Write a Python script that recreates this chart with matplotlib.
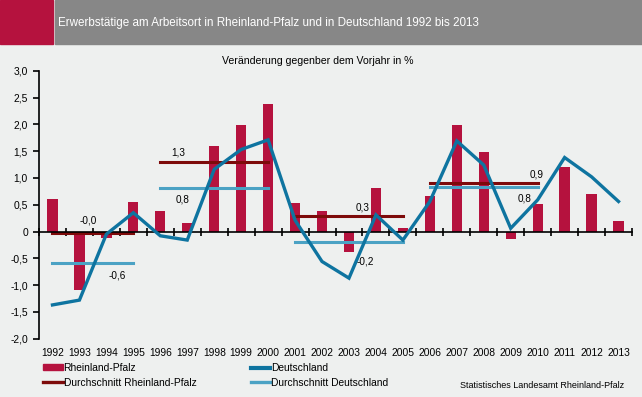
import numpy as np
import matplotlib
matplotlib.use("Agg")
import matplotlib.pyplot as plt
from matplotlib.patches import Rectangle
from matplotlib.lines import Line2D
from matplotlib.ticker import FuncFormatter

plt.rcParams['font.family'] = ['Liberation Sans', 'DejaVu Sans']

# data
years = [str(y) for y in range(1992, 2014)]
rlp = [0.61, -1.10, -0.12, 0.55, 0.38, 0.16, 1.60, 1.99, 2.37, 0.53, 0.38,
       -0.38, 0.81, 0.07, 0.66, 1.99, 1.48, -0.14, 0.51, 1.20, 0.70, 0.20]
de = [-1.37, -1.28, -0.05, 0.35, -0.08, -0.16, 1.16, 1.53, 1.71, 0.21, -0.56,
      -0.87, 0.31, -0.16, 0.56, 1.69, 1.24, 0.06, 0.59, 1.38, 1.02, 0.56]
# averages per period: (first year index, last year index)
periods = [(0, 3), (4, 8), (9, 13), (14, 18)]
rlp_avg = [-0.03, 1.29, 0.29, 0.90]
de_avg = [-0.59, 0.82, -0.20, 0.83]

c_bar = '#b5123e'
c_de = '#0e74a0'
c_rlp_avg = '#7d0a0a'
c_de_avg = '#4ba2c4'
bg = '#eef0ef'

fig = plt.figure(figsize=(6.42, 3.97), dpi=100)
fig.patch.set_facecolor(bg)

# header band
fig.patches.append(Rectangle((0, 1 - 44 / 397), 53 / 642, 44 / 397,
                             transform=fig.transFigure, color=c_bar, zorder=0))
fig.patches.append(Rectangle((55 / 642, 1 - 44 / 397), 1, 44 / 397,
                             transform=fig.transFigure, color='#878787', zorder=0))
fig.text(58 / 642, 1 - 23 / 397, 'Erwerbstätige am Arbeitsort in Rheinland-Pfalz und in Deutschland 1992 bis 2013',
         color='white', fontsize=8.4, va='center', ha='left')
fig.text(222 / 642, 1 - 61 / 397, 'Veränderung gegenber dem Vorjahr in %',
         fontsize=7.6, va='center', ha='left')

ax = fig.add_axes([39 / 642, 1 - 338.7 / 397, 593 / 642, 268 / 397])
ax.set_facecolor(bg)
x = np.arange(len(years))

ax.bar(x, rlp, width=0.38, color=c_bar, zorder=2)
ax.plot(x, de, color=c_de, lw=2.4, zorder=4, solid_joinstyle='miter')

for (a, b), r, d in zip(periods, rlp_avg, de_avg):
    ax.plot([x[a], x[b]], [r, r], color=c_rlp_avg, lw=2.2, zorder=3)
    ax.plot([x[a], x[b]], [d, d], color=c_de_avg, lw=2.2, zorder=3)

def fmt(v):
    return f'{v:.1f}'.replace('.', ',')

# value labels next to the averages
lab_kw = dict(fontsize=7.2, ha='center', va='center', zorder=5)
ax.text(1.32, rlp_avg[0] + 0.24, fmt(rlp_avg[0]), **lab_kw)
ax.text(2.39, de_avg[0] - 0.24, fmt(de_avg[0]), **lab_kw)
ax.text(4.66, rlp_avg[1] + 0.18, fmt(rlp_avg[1]), **lab_kw)
ax.text(4.84, de_avg[1] - 0.23, fmt(de_avg[1]), **lab_kw)
ax.text(11.5, rlp_avg[2] + 0.15, fmt(rlp_avg[2]), **lab_kw)
ax.text(11.6, de_avg[2] - 0.36, fmt(de_avg[2]), **lab_kw)
ax.text(17.97, rlp_avg[3] + 0.17, fmt(rlp_avg[3]), **lab_kw)
ax.text(17.5, de_avg[3] - 0.21, fmt(de_avg[3]), **lab_kw)

ax.set_xlim(-0.5, len(years) - 0.5)
ax.set_ylim(-2.0, 3.0)
ax.set_yticks(np.arange(-2.0, 3.01, 0.5))
ax.yaxis.set_major_formatter(FuncFormatter(lambda v, p: '0' if abs(v) < 1e-9 else fmt(v)))
ax.tick_params(axis='y', labelsize=7.4, length=4, width=1.2, pad=4)

for s in ['top', 'right']:
    ax.spines[s].set_visible(False)
ax.spines['left'].set_linewidth(1.2)
ax.spines['bottom'].set_position(('data', 0))
ax.spines['bottom'].set_linewidth(1.2)
ax.spines['bottom'].set_zorder(3)
ax.set_xticks(np.arange(-0.5, len(years), 1.0))
ax.set_xticklabels([])
ax.tick_params(axis='x', direction='inout', length=6, width=1.2)

sec = ax.secondary_xaxis(0.0)
sec.set_xticks(x)
sec.set_xticklabels(years)
sec.tick_params(length=0, labelsize=7.4, pad=7)
sec.spines['bottom'].set_visible(False)

handles = [
    Rectangle((0, 0), 1, 1, color=c_bar),
    Line2D([], [], color=c_de, lw=3),
    Line2D([], [], color=c_rlp_avg, lw=2.4),
    Line2D([], [], color=c_de_avg, lw=2.4),
]
labels = ['Rheinland-Pfalz', 'Deutschland', 'Durchschnitt Rheinland-Pfalz', 'Durchschnitt Deutschland']
order = [0, 2, 1, 3]
fig.legend([handles[i] for i in order], [labels[i] for i in order], ncol=2,
           loc='upper left', bbox_to_anchor=(43 / 642, 1 - 363 / 397), frameon=False,
           fontsize=7.4, handlelength=1.9, handleheight=0.5, handletextpad=0.1,
           columnspacing=5.3, labelspacing=0.45, borderpad=0, borderaxespad=0)

fig.text(624 / 642, 1 - 386 / 397, 'Statistisches Landesamt Rheinland-Pfalz',
         fontsize=6.5, ha='right', va='center')

fig.savefig('out.png', dpi=100, facecolor=bg)
